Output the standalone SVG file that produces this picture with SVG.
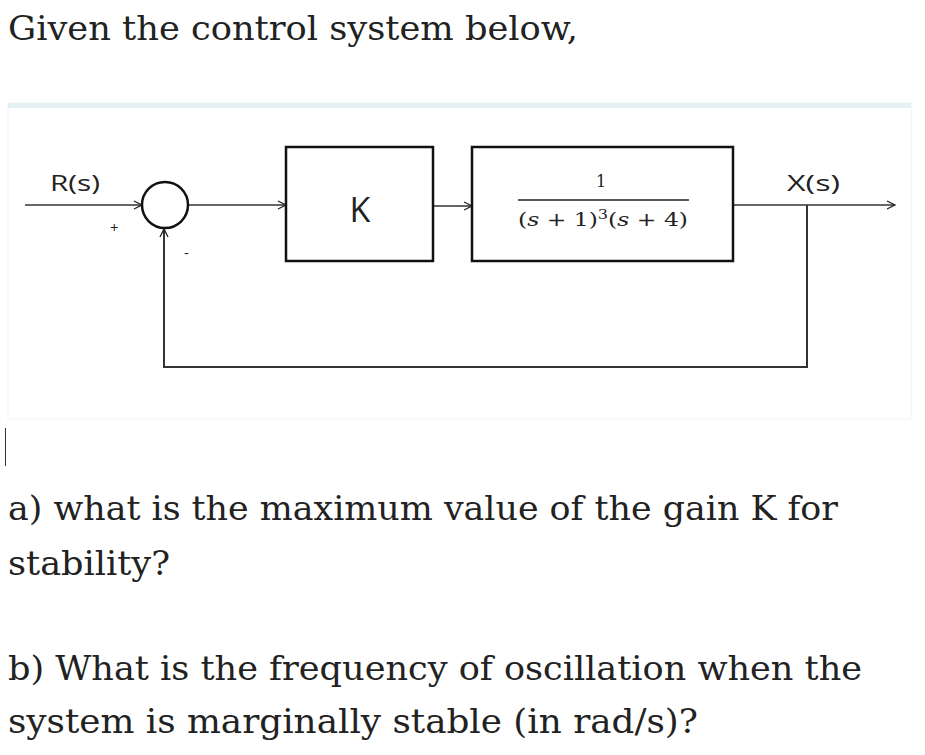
<svg xmlns="http://www.w3.org/2000/svg" width="925" height="755" viewBox="0 0 925 755">
<defs>
<marker id="arr" markerWidth="12" markerHeight="12" refX="10" refY="6" orient="auto" markerUnits="userSpaceOnUse">
<path d="M2,2 L10,6 L2,10" fill="none" stroke="#222" stroke-width="1.3"/>
</marker>
<style>
.q{font-family:"DejaVu Serif","Liberation Serif",serif;font-size:33px;fill:#222}
.lab{font-family:"Open Sans","Liberation Sans",sans-serif;font-size:22px;fill:#222}
.box{fill:#fff;stroke:#111;stroke-width:2.5}
.ln{fill:none;stroke:#333;stroke-width:1.5}
.fb{fill:none;stroke:#333;stroke-width:2}
.m{font-family:"DejaVu Serif","Liberation Serif",serif;font-size:19px;fill:#222}
</style>
</defs>
<rect width="925" height="755" fill="#fff"/>
<text class="q" x="8" y="40" textLength="570" lengthAdjust="spacingAndGlyphs">Given the control system below,</text>
<g id="panel">
<rect x="8" y="103" width="903" height="316" fill="#fff" stroke="#eef4f6" stroke-width="1"/>
<rect x="8" y="103" width="903" height="5" fill="#e5f0f2"/>
</g>
<g id="connectors">
<line class="ln" x1="25" y1="205" x2="142" y2="205" marker-end="url(#arr)"/>
<line class="ln" x1="188" y1="205" x2="286" y2="205" marker-end="url(#arr)"/>
<line class="ln" x1="433" y1="206" x2="472" y2="206" marker-end="url(#arr)"/>
<line class="ln" x1="733" y1="205" x2="895" y2="205" marker-end="url(#arr)"/>
<polyline class="fb" points="807,205 807,367 164,367 164,229" marker-end="url(#arr)"/>
</g>
<g id="sum">
<circle cx="165" cy="205" r="23" fill="#fff" stroke="#111" stroke-width="2.5"/>
<text class="lab" x="110" y="233" style="font-size:15px">+</text>
<text class="lab" x="184" y="258" style="font-size:15px">-</text>
</g>
<g id="R">
<text class="lab" x="50" y="191" textLength="50" lengthAdjust="spacingAndGlyphs">R(s)</text>
</g>
<g id="K">
<rect class="box" x="286" y="147" width="147" height="114"/>
<text class="lab" x="360" y="222" text-anchor="middle" style="font-size:34px">K</text>
</g>
<g id="G">
<rect class="box" x="472" y="147" width="261" height="114"/>
<text class="m" x="601" y="187" text-anchor="middle" style="font-size:16px">1</text>
<line x1="518" y1="200" x2="689" y2="200" stroke="#222" stroke-width="1.3"/>
<text class="m" x="518" y="226" textLength="170" lengthAdjust="spacingAndGlyphs">(<tspan font-style="italic">s</tspan> + 1)<tspan font-size="13" dy="-7">3</tspan><tspan dy="7">(</tspan><tspan font-style="italic">s</tspan> + 4)</text>
</g>
<g id="X">
<text class="lab" x="787" y="191" textLength="53" lengthAdjust="spacingAndGlyphs">X(s)</text>
</g>
<line x1="5.5" y1="428" x2="5.5" y2="466" stroke="#333" stroke-width="1"/>
<text class="q" x="8" y="520" textLength="830" lengthAdjust="spacingAndGlyphs">a) what is the maximum value of the gain K for</text>
<text class="q" x="8" y="575" textLength="162" lengthAdjust="spacingAndGlyphs">stability?</text>
<text class="q" x="8" y="680" textLength="854" lengthAdjust="spacingAndGlyphs">b) What is the frequency of oscillation when the</text>
<text class="q" x="8" y="733" textLength="690" lengthAdjust="spacingAndGlyphs">system is marginally stable (in rad/s)?</text>
</svg>
